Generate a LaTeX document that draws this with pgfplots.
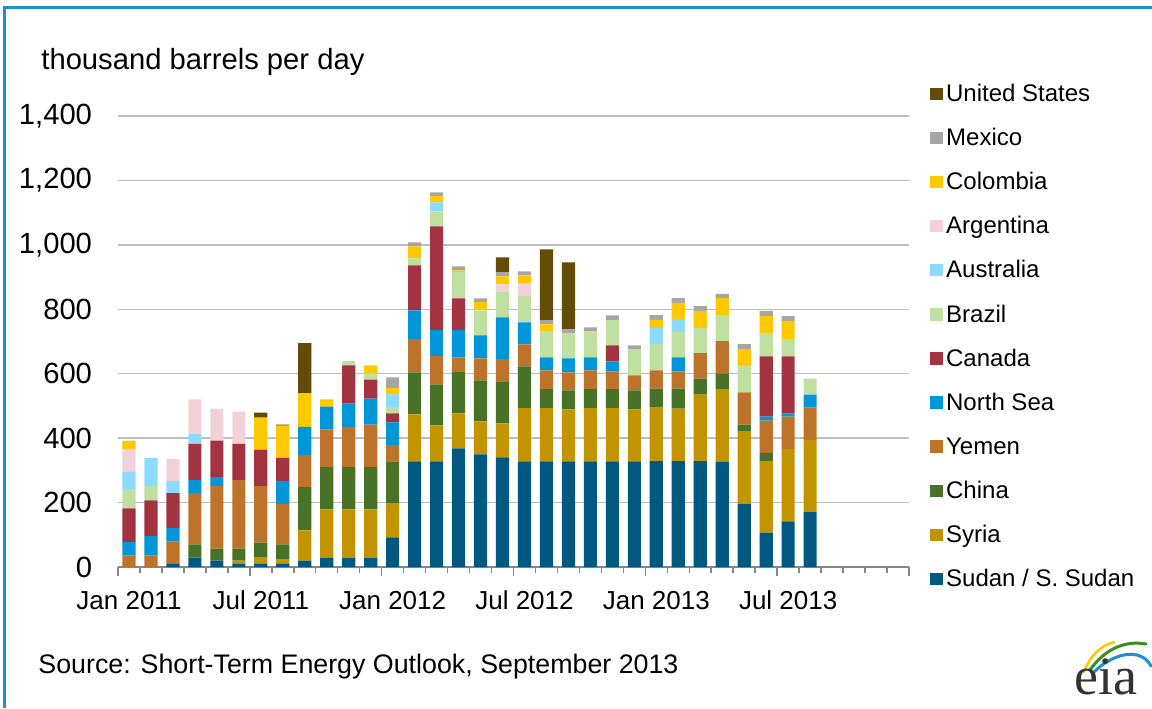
\documentclass[border=0pt]{standalone}
\usepackage{fontspec}
\setmainfont{Liberation Sans}
\newfontfamily\seriffont{Liberation Serif}
\usepackage{pgfplots}
\pgfplotsset{compat=1.18}
\usepackage{pgfplotstable}

\definecolor{cUS}{RGB}{99,76,6}
\definecolor{cMexico}{RGB}{166,166,166}
\definecolor{cColombia}{RGB}{255,200,0}
\definecolor{cArgentina}{RGB}{242,210,216}
\definecolor{cAustralia}{RGB}{140,218,255}
\definecolor{cBrazil}{RGB}{192,224,162}
\definecolor{cCanada}{RGB}{163,51,64}
\definecolor{cNorthSea}{RGB}{0,150,215}
\definecolor{cYemen}{RGB}{189,115,42}
\definecolor{cChina}{RGB}{71,114,39}
\definecolor{cSyria}{RGB}{194,149,0}
\definecolor{cSudan}{RGB}{1,88,128}
\definecolor{eiablue}{RGB}{30,144,210}
\definecolor{gridgray}{RGB}{190,190,190}
\definecolor{axisgray}{RGB}{134,134,134}

\pgfplotstableread{
x sudan syria china yemen ns canada brazil australia argentina colombia mexico us
0 0 0 0 35 42 105 60 53 72 25 0 0
1 0 0 0 35 61 111 45 87 0 0 0 0
2 10 0 0 69 42 108 0 38 68 0 0 0
3 29 0 41 159 41 112 0 32 106 0 0 0
4 20 0 37 194 28 113 0 0 100 0 0 0
5 10 10 37 213 0 112 0 0 100 0 0 0
6 10 19 47 175 0 113 0 0 0 100 0 15
7 10 13 47 125 72 72 0 0 0 100 0 3
8 20 94 134 100 87 0 0 0 0 104 0 156
9 29 150 131 117 71 0 0 0 0 22 0 0
10 29 150 131 125 72 119 13 0 0 0 0 0
11 29 150 131 132 81 59 19 0 0 25 0 0
12 92 106 130 50 71 28 19 40 0 19 34 0
13 328 146 130 103 90 139 22 0 0 37 13 0
14 328 112 127 88 80 322 47 28 0 19 12 0
15 368 109 130 44 84 99 81 0 0 6 12 0
16 350 102 127 69 71 0 78 0 0 25 12 0
17 340 106 130 69 130 0 78 0 24 25 13 46
18 328 165 130 68 68 0 84 0 38 24 13 0
19 328 165 59 58 41 0 81 0 0 21 13 220
20 328 161 59 56 44 0 77 0 0 0 13 208
21 328 165 59 58 41 0 81 0 0 0 12 0
22 328 165 59 55 31 50 78 0 0 0 15 0
23 328 161 59 47 0 0 81 0 0 0 12 0
24 329 166 59 56 0 0 82 50 0 25 15 0
25 329 163 62 53 44 0 78 41 0 50 15 0
26 329 206 50 79 0 0 78 0 0 53 15 0
27 326 225 50 100 0 0 81 0 0 53 13 0
28 195 225 22 100 0 0 81 0 0 53 16 0
29 107 222 25 100 13 187 72 0 0 53 16 0
30 142 225 0 100 9 178 53 0 0 57 15 0
31 170 225 0 100 40 0 50 0 0 0 0 0
}\datatable

\begin{document}
\begin{tikzpicture}[x=0.5pt,y=0.5pt]
\path[use as bounding box] (0,0) rectangle (1152,708);
\fill[white] (0,0) rectangle (1152,708);
\draw[color=eiablue, line width=1.2pt] (4.5,0) -- (4.5,700.5) -- (1152,700.5);
\begin{axis}[
  at={(59pt,70.5pt)}, anchor=south west,
  scale only axis, width=395.5pt, height=225.5pt,
  ybar stacked, bar width=0.6,
  xmin=-0.5, xmax=35.5, ymin=0, ymax=1400,
  ytick={0,200,...,1400},
  ymajorgrids, grid style={color=gridgray, line width=0.75pt},
  axis x line*=bottom, axis y line*=left,
  y axis line style={draw=none},
  x axis line style={-, color=axisgray, line width=1pt},
  xtick={-0.5,5.5,...,35.5}, xticklabels={},
  minor x tick num=5,
  tick align=outside,
  major tick length=4.5pt, minor tick length=3pt,
  xtick style={color=axisgray, line width=0.75pt},
  ytick style={draw=none},
  extra x ticks={0,6,12,18,24,30},
  extra x tick labels={Jan 2011,Jul 2011,Jan 2012,Jul 2012,Jan 2013,Jul 2013},
  extra x tick style={major tick length=0pt, tick label style={anchor=base, inner sep=0pt, yshift=-21pt, font=\fontsize{13}{15}\selectfont}},
  /pgf/number format/assume math mode=true,
  yticklabel style={font=\fontsize{14.6}{17}\selectfont, anchor=east, inner sep=0pt, xshift=-8.3pt},
  legend style={at={(1.0265,1.075)}, anchor=north west, draw=none, fill=none,
    inner sep=0pt, outer sep=0pt, row sep=10.35pt,
    font=\fontsize{12}{14}\selectfont,
    nodes={inner sep=0pt, text height=9.7pt, text depth=2pt},
    /tikz/every odd column/.append style={column sep=1.8pt}},
  legend cell align=left,
  reverse legend,
  legend image code/.code={\draw[#1,draw=none] (0pt,-3.1pt) rectangle (6.3pt,3.1pt);},
]
\addplot[fill=cSudan, draw=none] table[x=x,y=sudan]{\datatable};
\addlegendentry{Sudan / S. Sudan}
\addplot[fill=cSyria, draw=none] table[x=x,y=syria]{\datatable};
\addlegendentry{Syria}
\addplot[fill=cChina, draw=none] table[x=x,y=china]{\datatable};
\addlegendentry{China}
\addplot[fill=cYemen, draw=none] table[x=x,y=yemen]{\datatable};
\addlegendentry{Yemen}
\addplot[fill=cNorthSea, draw=none] table[x=x,y=ns]{\datatable};
\addlegendentry{North Sea}
\addplot[fill=cCanada, draw=none] table[x=x,y=canada]{\datatable};
\addlegendentry{Canada}
\addplot[fill=cBrazil, draw=none] table[x=x,y=brazil]{\datatable};
\addlegendentry{Brazil}
\addplot[fill=cAustralia, draw=none] table[x=x,y=australia]{\datatable};
\addlegendentry{Australia}
\addplot[fill=cArgentina, draw=none] table[x=x,y=argentina]{\datatable};
\addlegendentry{Argentina}
\addplot[fill=cColombia, draw=none] table[x=x,y=colombia]{\datatable};
\addlegendentry{Colombia}
\addplot[fill=cMexico, draw=none] table[x=x,y=mexico]{\datatable};
\addlegendentry{Mexico}
\addplot[fill=cUS, draw=none] table[x=x,y=us]{\datatable};
\addlegendentry{United States}
\end{axis}
\node[anchor=base west, inner sep=0pt, font=\fontsize{14.6}{17}\selectfont] at (41,638) {thousand barrels per day};
\node[anchor=base west, inner sep=0pt, font=\fontsize{13.4}{16}\selectfont] at (38,35) {Source: Short-Term Energy Outlook, September 2013};
% eia logo
\draw[color=cColombia, line width=1.3pt, line cap=round] (1084,36) .. controls (1090,52) and (1100,62) .. (1114,66);
\draw[color=cChina!80!green, line width=1.5pt, line cap=round] (1090,38) .. controls (1104,58) and (1124,68) .. (1146,64);
\draw[color=eiablue, line width=1.5pt, line cap=round] (1094,36) .. controls (1112,54) and (1140,62) .. (1151,42);
\node[anchor=base west, inner sep=0pt, text=black!80, font=\seriffont\fontsize{27}{30}\selectfont] at (1074,14) {eia};
\end{tikzpicture}
\end{document}
